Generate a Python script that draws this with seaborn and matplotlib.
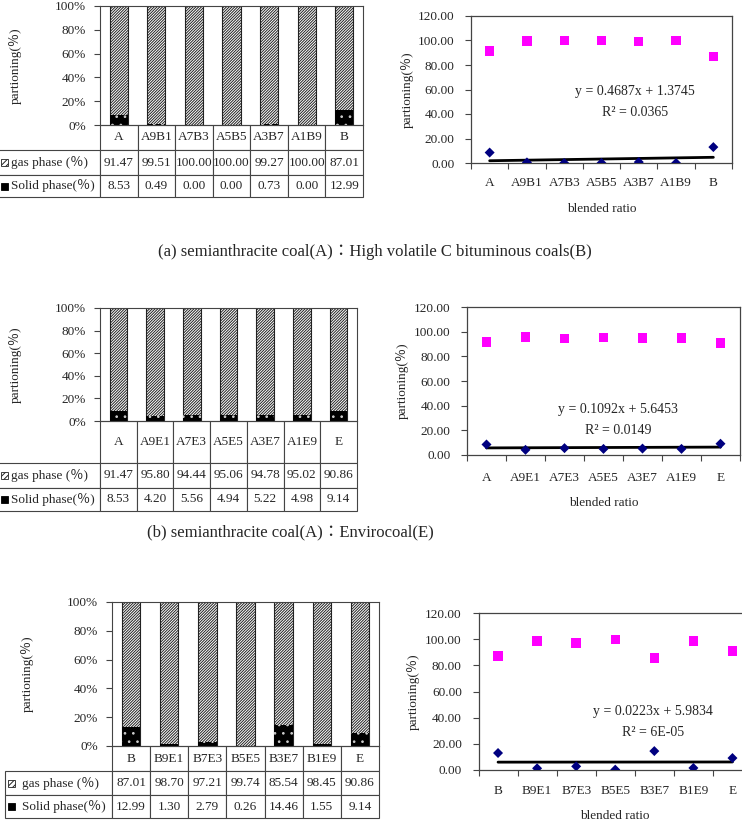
import numpy as np
import pandas as pd
import seaborn as sns
import matplotlib.pyplot as plt
from matplotlib.patches import Rectangle
from matplotlib.table import Table
from matplotlib.ticker import FuncFormatter

# 資料 (a) A : B
cats_a = ['A', 'A9B1', 'A7B3', 'A5B5', 'A3B7', 'A1B9', 'B']
gas_a = [91.47, 99.51, 100.00, 100.00, 99.27, 100.00, 87.01]
solid_a = [8.53, 0.49, 0.00, 0.00, 0.73, 0.00, 12.99]
eq_a = ['y = 0.4687x + 1.3745', 'R² = 0.0365']

# 資料 (b) A : E
cats_b = ['A', 'A9E1', 'A7E3', 'A5E5', 'A3E7', 'A1E9', 'E']
gas_b = [91.47, 95.80, 94.44, 95.06, 94.78, 95.02, 90.86]
solid_b = [8.53, 4.20, 5.56, 4.94, 5.22, 4.98, 9.14]
eq_b = ['y = 0.1092x + 5.6453', 'R² = 0.0149']

# 資料 (c) B : E
cats_c = ['B', 'B9E1', 'B7E3', 'B5E5', 'B3E7', 'B1E9', 'E']
gas_c = [87.01, 98.70, 97.21, 99.74, 85.54, 98.45, 90.86]
solid_c = [12.99, 1.30, 2.79, 0.26, 14.46, 1.55, 9.14]
eq_c = ['y = 0.0223x + 5.9834', 'R² = 6E-05']

row_labels = ['gas phase (％)', 'Solid phase(％)']
ylab = 'partioning(％)'
xlab = 'blended ratio'
caption_a = '(a) semianthracite coal(A)：High volatile C bituminous coals(B)'
caption_b = '(b) semianthracite coal(A)：Envirocoal(E)'

sns.set_style('ticks')
plt.rcParams['font.family'] = ['Liberation Serif', 'Noto Sans CJK TC']
plt.rcParams['hatch.linewidth'] = 0.7

W, H = 742, 833
fig = plt.figure(figsize=(W / 100, H / 100), dpi=100)
FS = 9.5
LINE = '#444444'
GAS_HATCH = '/' * 12


def px_axes(x0, y0, x1, y1):
    return fig.add_axes([x0 / W, 1 - y1 / H, (x1 - x0) / W, (y1 - y0) / H])


def ftext(x, y, s, **kw):
    fig.text(x / W, 1 - y / H, s, **kw)


def bar_panel(box, rows, lab_x0, ylab_x, pad, cats, gas, solid):
    x0, y0, x1, y1 = box
    axw, axh = x1 - x0, y1 - y0
    ax = px_axes(*box)
    df = pd.DataFrame({'cat': cats, 'gas': gas, 'solid': solid})
    df['total'] = df['gas'] + df['solid']
    sns.barplot(data=df, x='cat', y='total', order=cats, color='white',
                edgecolor='#222222', hatch=GAS_HATCH, linewidth=0.8, width=0.48,
                saturation=1, errorbar=None, ax=ax)
    sns.barplot(data=df, x='cat', y='solid', order=cats, color='black',
                edgecolor='#cccccc', hatch='..', linewidth=0, width=0.48,
                saturation=1, errorbar=None, ax=ax)
    ax.set_ylim(0, 100)
    ax.set_yticks(range(0, 101, 20))
    ax.yaxis.set_major_formatter(FuncFormatter(lambda v, p: f'{v:.0f}%'))
    ax.tick_params(axis='y', length=4, width=0.8, color=LINE, labelsize=FS, pad=6)
    ax.tick_params(axis='x', length=0, labelbottom=False)
    ax.set_xlabel('')
    ax.set_ylabel(ylab, fontsize=FS, va='center')
    ax.yaxis.set_label_coords((ylab_x - x0) / axw, 0.5)
    for sp in ax.spines.values():
        sp.set_visible(True)
        sp.set_color(LINE)
        sp.set_linewidth(0.8)

    # data table under the bars
    bottom = rows[-1][1]
    tb = Table(ax, bbox=[(lab_x0 - x0) / axw, -(bottom - y1) / axh,
                         (x1 - lab_x0) / axw, (bottom - y1) / axh])
    lab_w = (x0 - lab_x0) / axw
    col_w = 1 / len(cats)
    body = [cats, [f'{v:.2f}' for v in gas], [f'{v:.2f}' for v in solid]]
    for r, (t, b) in enumerate(rows):
        h = (b - t) / axh
        if r == 0:
            c = tb.add_cell(0, 0, lab_w, h, text='')
            c.visible_edges = ''
            c.set_fill(False)
        else:
            c = tb.add_cell(r, 0, lab_w, h, text=row_labels[r - 1], loc='left',
                            edgecolor=LINE)
            c.PAD = pad
            c.set_linewidth(0.8)
        for j, s in enumerate(body[r]):
            c = tb.add_cell(r, j + 1, col_w, h, text=s, loc='center', edgecolor=LINE)
            c.set_linewidth(0.8)
    tb.auto_set_font_size(False)
    tb.set_fontsize(FS)
    ax.add_table(tb)

    # legend keys inside the row label cells
    for (t, b), key in zip(rows[1:], ['gas', 'solid']):
        cy = (t + b) / 2
        kx = lab_x0 + 3
        if key == 'gas':
            p = Rectangle((kx / W, 1 - (cy + 3.5) / H), 7 / W, 7 / H, transform=fig.transFigure,
                          facecolor='white', edgecolor='#222222', hatch='//////', lw=0.6)
        else:
            p = Rectangle((kx / W, 1 - (cy + 3.5) / H), 7 / W, 7 / H, transform=fig.transFigure,
                          facecolor='black', edgecolor='black', lw=0.6)
        fig.add_artist(p)
    return ax


def scatter_panel(box, cats, gas, solid, eq, eq_x, eq_y, ylab_x, tick_y, xlab_y):
    x0, y0, x1, y1 = box
    axw, axh = x1 - x0, y1 - y0
    ax = px_axes(*box)
    xpos = np.arange(1, len(cats) + 1)
    sns.scatterplot(x=xpos, y=gas, marker='s', s=46, color='#ff00ff',
                    edgecolor='none', ax=ax, zorder=3)
    sns.scatterplot(x=xpos, y=solid, marker='D', s=26, color='#000080',
                    edgecolor='none', ax=ax, zorder=3)
    sns.regplot(x=xpos, y=solid, scatter=False, ci=None, truncate=True,
                color='black', line_kws={'lw': 2}, ax=ax)
    ax.set_xlim(0.5, len(cats) + 0.5)
    ax.set_ylim(0, 120)
    ax.set_yticks(range(0, 121, 20))
    ax.yaxis.set_major_formatter(FuncFormatter(lambda v, p: f'{v:.2f}'))
    ax.set_xticks(xpos)
    ax.set_xticklabels(cats)
    ax.set_xticks(np.arange(0.5, len(cats) + 1), minor=True)
    ax.tick_params(axis='x', which='major', length=0, labelsize=FS,
                   pad=(tick_y - y1) * 0.72 - 4)
    ax.tick_params(axis='x', which='minor', length=4, width=0.8, color=LINE,
                   direction='out')
    ax.tick_params(axis='y', length=4, width=0.8, color=LINE, labelsize=FS, pad=8)
    ax.set_ylabel(ylab, fontsize=FS, va='center')
    ax.yaxis.set_label_coords((ylab_x - x0) / axw, 0.5)
    ax.set_xlabel(xlab, fontsize=FS, va='center')
    ax.xaxis.set_label_coords(0.5, -(xlab_y - y1) / axh)
    for sp in ax.spines.values():
        sp.set_visible(True)
        sp.set_color(LINE)
        sp.set_linewidth(0.9)
    ftext(eq_x, eq_y, eq[0], ha='center', va='center', fontsize=10)
    ftext(eq_x, eq_y + 21, eq[1], ha='center', va='center', fontsize=10)
    return ax


# (a)
bar_panel((100, 6, 363, 125), [(125, 150), (150, 175), (175, 197)], -2, 15, 0.13,
          cats_a, gas_a, solid_a)
scatter_panel((471, 16, 732, 163), cats_a, gas_a, solid_a, eq_a, 635, 91, 407, 183, 209)
ftext(158, 252, caption_a, ha='left', va='center', fontsize=12)

# (b)
bar_panel((100, 308, 357, 421), [(421, 463), (463, 488), (488, 511)], -2, 15, 0.13,
          cats_b, gas_b, solid_b)
scatter_panel((467, 307, 740, 455), cats_b, gas_b, solid_b, eq_b, 618, 410, 402, 478, 503)
ftext(147, 532, caption_b, ha='left', va='center', fontsize=12)

# (c)
bar_panel((112, 602, 379, 746), [(746, 771), (771, 795), (795, 818)], 5, 27, 0.16,
          cats_c, gas_c, solid_c)
scatter_panel((478.5, 613, 752, 770), cats_c, gas_c, solid_c, eq_c, 653, 712, 413, 791, 816)

fig.savefig('out.png', dpi=100)
